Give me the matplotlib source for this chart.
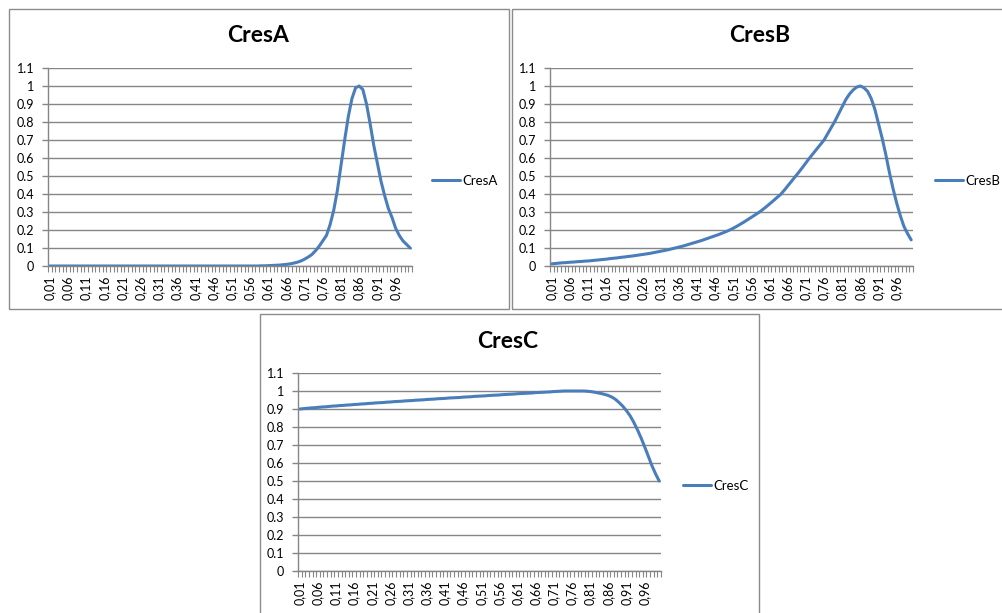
import matplotlib
matplotlib.use("Agg")
import matplotlib.pyplot as plt
from matplotlib.patches import Rectangle

plt.rcParams['font.family'] = ['Lato', 'DejaVu Sans']

# Category axis: 0.01 .. 1.00
categories = [f"{k / 100:.2f}".replace(".", ",") for k in range(1, 101)]

cres_a = [
    0, 0, 0, 0, 0, 0, 0, 0, 0, 0,
    0, 0, 0, 0, 0, 0, 0, 0, 0, 0,
    0, 0, 0, 0, 0, 0, 0, 0, 0, 0,
    0, 0, 0, 0, 0, 0, 0, 0, 0, 0,
    0, 0, 0, 0, 0, 0, 0, 0, 0, 0,
    0, 0, 0, 0, 0, 0, 0, 0, 0.001, 0.001,
    0.002, 0.003, 0.004, 0.005, 0.007, 0.009, 0.012, 0.016, 0.021, 0.028,
    0.038, 0.050, 0.064, 0.085, 0.110, 0.140, 0.170, 0.230, 0.310, 0.420,
    0.560, 0.700, 0.830, 0.930, 0.990, 1.000, 0.980, 0.900, 0.790, 0.670,
    0.570, 0.470, 0.390, 0.320, 0.270, 0.210, 0.170, 0.140, 0.120, 0.100,
]

cres_b = [
    0.012, 0.014, 0.016, 0.018, 0.019, 0.021, 0.022, 0.024, 0.025, 0.027,
    0.028, 0.030, 0.032, 0.034, 0.036, 0.038, 0.041, 0.043, 0.045, 0.048,
    0.050, 0.053, 0.055, 0.058, 0.061, 0.064, 0.067, 0.070, 0.074, 0.078,
    0.082, 0.086, 0.090, 0.095, 0.100, 0.105, 0.110, 0.116, 0.122, 0.128,
    0.134, 0.140, 0.147, 0.154, 0.161, 0.168, 0.175, 0.183, 0.191, 0.200,
    0.210, 0.221, 0.233, 0.245, 0.258, 0.271, 0.284, 0.297, 0.312, 0.328,
    0.345, 0.362, 0.380, 0.397, 0.420, 0.445, 0.470, 0.495, 0.520, 0.546,
    0.573, 0.600, 0.625, 0.650, 0.675, 0.700, 0.735, 0.770, 0.805, 0.845,
    0.885, 0.925, 0.955, 0.978, 0.994, 1.000, 0.990, 0.970, 0.930, 0.870,
    0.790, 0.710, 0.620, 0.520, 0.430, 0.350, 0.280, 0.220, 0.180, 0.145,
]

cres_c = [
    0.900, 0.902, 0.904, 0.906, 0.907, 0.909, 0.911, 0.912, 0.914, 0.916,
    0.917, 0.919, 0.920, 0.922, 0.923, 0.925, 0.926, 0.928, 0.929, 0.931,
    0.932, 0.934, 0.935, 0.936, 0.938, 0.939, 0.941, 0.942, 0.943, 0.945,
    0.946, 0.947, 0.949, 0.950, 0.951, 0.953, 0.954, 0.955, 0.957, 0.958,
    0.959, 0.961, 0.962, 0.963, 0.964, 0.966, 0.967, 0.968, 0.970, 0.971,
    0.972, 0.973, 0.975, 0.976, 0.977, 0.978, 0.980, 0.981, 0.982, 0.983,
    0.985, 0.986, 0.987, 0.988, 0.989, 0.991, 0.992, 0.993, 0.994, 0.995,
    0.997, 0.998, 0.999, 1.000, 1.000, 1.000, 1.000, 1.000, 1.000, 0.999,
    0.997, 0.994, 0.990, 0.986, 0.981, 0.975, 0.966, 0.953, 0.935, 0.915,
    0.890, 0.862, 0.826, 0.785, 0.740, 0.690, 0.638, 0.585, 0.540, 0.500,
]

y_ticks = [0, 0.1, 0.2, 0.3, 0.4, 0.5, 0.6, 0.7, 0.8, 0.9, 1.0, 1.1]
y_tick_labels = ["0", "0.1", "0.2", "0.3", "0.4", "0.5", "0.6", "0.7",
                 "0.8", "0.9", "1", "1.1"]

W, H = 1002, 613
LINE = "#4A7EBB"
GRID = "#868686"
FRAME = "#8C8C8C"
TICK_SIZE = 9
LEGEND_SIZE = 9.5

fig = plt.figure(figsize=(W / 100, H / 100), dpi=100)


def box(l, t, r, b):
    return [l / W, 1 - b / H, (r - l) / W, (b - t) / H]


# name, series, chart frame, plot area, title centre, legend anchor
charts = [
    ("CresA", cres_a, (9, 9, 509, 309), (48, 68, 412, 266), (258, 36), (432, 181)),
    ("CresB", cres_b, (512, 9, 1012, 309), (550, 68, 913, 266), (760, 36), (935, 181)),
    ("CresC", cres_c, (260, 314, 759, 640), (298, 373, 661, 571), (508, 341), (683, 486)),
]

for name, values, frame, area, title_xy, legend_xy in charts:
    fl, ft, fr, fb = frame
    fig.add_artist(Rectangle((fl / W, 1 - fb / H), (fr - fl) / W, (fb - ft) / H,
                             transform=fig.transFigure, fill=False,
                             edgecolor=FRAME, linewidth=1.0))
    fig.text(title_xy[0] / W, 1 - title_xy[1] / H, name, ha="center", va="center",
             fontsize=16.5, fontweight="bold", color="black")

    l, t, r, b = area
    ax = fig.add_axes(box(l, t, r, b))
    ax.set_facecolor("none")
    ax.plot(range(len(values)), values, color=LINE, linewidth=2.2,
            solid_capstyle="round", solid_joinstyle="round", label=name)

    ax.set_xlim(-0.5, len(values) - 0.5)
    ax.set_ylim(0, 1.1)
    ax.set_yticks(y_ticks, y_tick_labels)
    ax.yaxis.grid(True, color=GRID, linewidth=1.0)
    ax.set_axisbelow(True)

    ax.set_xticks(range(0, len(values), 5), categories[::5], rotation=90)
    ax.set_xticks([k - 0.5 for k in range(len(values) + 1)], minor=True)

    for side in ("top", "right"):
        ax.spines[side].set_visible(False)
    for side in ("left", "bottom"):
        ax.spines[side].set_color(GRID)
        ax.spines[side].set_linewidth(1.0)

    ax.tick_params(axis="y", length=4, width=1, color=GRID, pad=6,
                   labelsize=TICK_SIZE, labelcolor="black")
    ax.tick_params(axis="x", which="major", length=0, pad=6.5,
                   labelsize=TICK_SIZE, labelcolor="black")
    ax.tick_params(axis="x", which="minor", length=4, width=0.8, color=GRID)

    lx = (legend_xy[0] - l) / (r - l)
    ly = (b - legend_xy[1]) / (b - t)
    ax.legend(loc="center left", bbox_to_anchor=(lx, ly), frameon=False,
              handlelength=28 / (LEGEND_SIZE * 100 / 72), handletextpad=0.15,
              borderpad=0, borderaxespad=0, fontsize=LEGEND_SIZE)

fig.savefig("out.png", dpi=100)
